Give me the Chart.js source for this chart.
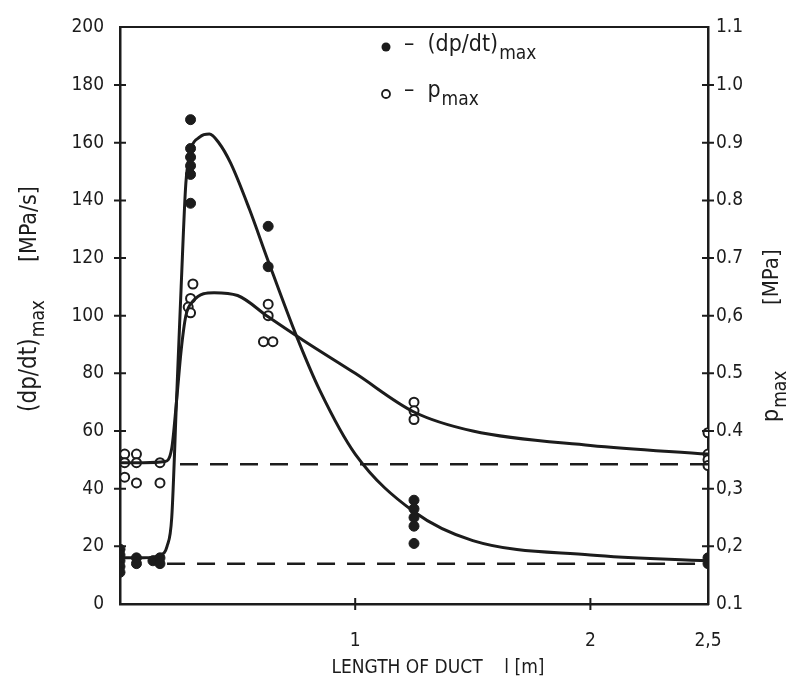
<!DOCTYPE html>
<html><head><meta charset="utf-8">
<script src="https://cdn.jsdelivr.net/npm/chart.js@4"></script>
<style>html,body{margin:0;padding:0;background:#fff}</style>
</head><body>
<canvas id="c" width="807" height="693"></canvas>
<script>
// ---- data ----
// (dp/dt)max measured points [MPa/s]
const dpdtX = [0, 0, 0, 0, 0, 0.07, 0.07, 0.14, 0.17, 0.17, 0.3, 0.3, 0.3, 0.3, 0.3, 0.3, 0.63, 0.63, 1.25, 1.25, 1.25, 1.25, 1.25, 2.5, 2.5];
const dpdtY = [19, 17, 15, 13, 11, 16, 14, 15, 16, 14, 168, 158, 155, 152, 149, 139, 131, 117, 36, 33, 30, 27, 21, 16, 14];
// pmax measured points [MPa]
const pmaxX = [0.02, 0.02, 0.02, 0.07, 0.07, 0.07, 0.17, 0.17, 0.31, 0.3, 0.29, 0.3, 0.63, 0.63, 0.61, 0.65, 1.25, 1.25, 1.25, 2.5, 2.5, 2.5, 2.5];
const pmaxY = [0.36, 0.345, 0.32, 0.36, 0.345, 0.31, 0.345, 0.31, 0.655, 0.63, 0.615, 0.605, 0.62, 0.6, 0.555, 0.555, 0.45, 0.435, 0.42, 0.397, 0.36, 0.35, 0.34];
// fitted curves
const dpdtCurveX = [0, 0.1, 0.17, 0.2, 0.22, 0.24, 0.26, 0.28, 0.3, 0.34, 0.38, 0.42, 0.47, 0.55, 0.63, 0.75, 0.85, 1.0, 1.25, 1.5, 2.0, 2.5];
const dpdtCurveY = [16, 16, 17, 20, 30, 70, 110, 146, 157, 162, 163, 160, 153, 137, 119, 93, 74, 52, 32, 22, 17, 15];
const pmaxCurveX = [0, 0.1, 0.19, 0.22, 0.24, 0.26, 0.28, 0.31, 0.4, 0.5, 0.63, 0.78, 1.0, 1.25, 1.5, 2.0, 2.5];
const pmaxCurveY = [0.345, 0.345, 0.347, 0.37, 0.45, 0.54, 0.6, 0.625, 0.64, 0.635, 0.598, 0.557, 0.5, 0.433, 0.4, 0.375, 0.36];
// dashed reference levels
const dpdtBaseX = [0.2, 2.5];
const dpdtBaseY = [14, 14];
const pmaxBaseX = [0.255, 2.5];
const pmaxBaseY = [0.3425, 0.3425];
// tick labels
const xTicks = [1, 2, 2.5];
const xTickLabels = ['1', '2', '2,5'];
const leftTicks = [0, 20, 40, 60, 80, 100, 120, 140, 160, 180, 200];
const leftTickLabels = ['0', '20', '40', '60', '80', '100', '120', '140', '160', '180', '200'];
const rightTicks = [0.1, 0.2, 0.3, 0.4, 0.5, 0.6, 0.7, 0.8, 0.9, 1.0, 1.1];
const rightTickLabels = ['0.1', '0,2', '0,3', '0.4', '0.5', '0,6', '0.7', '0.8', '0.9', '1.0', '1.1'];

const FONT = '"DejaVu Sans Condensed", "Liberation Sans Narrow", "DejaVu Sans", sans-serif';
const INK = '#1c1c1c';
const pts = (xs, ys) => xs.map((v, i) => ({x: v, y: ys[i]}));

function drawSub(ctx, main, sub, x, y, size, subSize) {
  ctx.font = size + 'px ' + FONT;
  ctx.fillText(main, x, y);
  const w = ctx.measureText(main).width;
  ctx.font = subSize + 'px ' + FONT;
  ctx.fillText(sub, x + w + 1, y + size * 0.38);
  return w + ctx.measureText(sub).width + 1;
}

const deco = {
  id: 'deco',
  afterDraw(chart) {
    const ctx = chart.ctx;
    const sx = chart.scales.x, sy = chart.scales.y, sy2 = chart.scales.y2;
    const a = chart.chartArea;
    ctx.save();
    ctx.strokeStyle = INK; ctx.fillStyle = INK; ctx.lineWidth = 2;
    ctx.beginPath();
    leftTicks.forEach(v => { if (v === 0 || v === 200) return; const p = sy.getPixelForValue(v); ctx.moveTo(a.left - 6, p); ctx.lineTo(a.left + 6, p); });
    rightTicks.forEach(v => { if (v < 0.15 || v > 1.05) return; const p = sy2.getPixelForValue(v); ctx.moveTo(a.right - 6, p); ctx.lineTo(a.right + 6, p); });
    [1, 2].forEach(v => { const p = sx.getPixelForValue(v); ctx.moveTo(p, a.bottom - 6); ctx.lineTo(p, a.bottom + 6); });
    ctx.stroke();
    // legend
    ctx.textBaseline = 'middle'; ctx.textAlign = 'left';
    ctx.beginPath(); ctx.arc(386, 47, 4.5, 0, Math.PI * 2); ctx.fill();
    drawSub(ctx, '–  (dp/dt)', 'max', 404, 45, 23, 19);
    ctx.beginPath(); ctx.arc(386, 94, 4, 0, Math.PI * 2); ctx.fillStyle = '#fff'; ctx.fill(); ctx.lineWidth = 1.8; ctx.stroke();
    ctx.fillStyle = INK;
    drawSub(ctx, '–  p', 'max', 404, 91, 23, 19);
    // left title (rotated)
    ctx.save();
    ctx.translate(30, 412); ctx.rotate(-Math.PI / 2);
    drawSub(ctx, '(dp/dt)', 'max', 0, 0, 24, 19);
    ctx.font = '23px ' + FONT;
    ctx.fillText('[MPa/s]', 150, 0);
    ctx.restore();
    // right title (rotated)
    ctx.save();
    ctx.translate(772, 422); ctx.rotate(-Math.PI / 2);
    drawSub(ctx, 'p', 'max', 0, 0, 23, 19);
    ctx.font = '22px ' + FONT;
    ctx.fillText('[MPa]', 117, 0);
    ctx.restore();
    // x title
    ctx.textAlign = 'center';
    ctx.font = '19px ' + FONT;
    ctx.fillText('LENGTH OF DUCT    l [m]', 438, 668);
    ctx.restore();
  }
};

new Chart(document.getElementById('c'), {
  type: 'scatter',
  data: {
    datasets: [
      { label: 'dpdt curve', type: 'line', data: pts(dpdtCurveX, dpdtCurveY), yAxisID: 'y', borderColor: INK, borderWidth: 3, pointRadius: 0, cubicInterpolationMode: 'monotone', fill: false },
      { label: 'pmax curve', type: 'line', data: pts(pmaxCurveX, pmaxCurveY), yAxisID: 'y2', borderColor: INK, borderWidth: 3, pointRadius: 0, cubicInterpolationMode: 'monotone', fill: false },
      { label: 'dpdt base', type: 'line', data: pts(dpdtBaseX, dpdtBaseY), yAxisID: 'y', borderColor: INK, borderWidth: 2.5, borderDash: [18, 12], pointRadius: 0, fill: false },
      { label: 'pmax base', type: 'line', data: pts(pmaxBaseX, pmaxBaseY), yAxisID: 'y2', borderColor: INK, borderWidth: 2.5, borderDash: [18, 12], pointRadius: 0, fill: false },
      { label: '(dp/dt)max', data: pts(dpdtX, dpdtY), yAxisID: 'y', backgroundColor: INK, borderColor: INK, pointRadius: 5, pointBorderWidth: 1 },
      { label: 'pmax', data: pts(pmaxX, pmaxY), yAxisID: 'y2', backgroundColor: '#fff', borderColor: INK, pointRadius: 4.5, pointBorderWidth: 2 }
    ]
  },
  options: {
    responsive: false, animation: false, devicePixelRatio: 1,
    layout: { padding: 0 },
    plugins: { legend: { display: false }, tooltip: { enabled: false } },
    scales: {
      x: {
        type: 'linear', position: 'bottom', min: 0, max: 2.5,
        afterFit(s) { s.height = 89; },
        afterBuildTicks(s) { s.ticks = xTicks.map(v => ({value: v})); },
        ticks: { color: INK, font: { size: 19, family: FONT }, padding: 26, maxRotation: 0, autoSkip: false,
                 callback: (v) => xTickLabels[xTicks.indexOf(v)] },
        grid: { display: false, drawTicks: false },
        border: { display: true, color: INK, width: 2.5 }
      },
      xTop: {
        type: 'linear', position: 'top', min: 0, max: 2.5,
        afterFit(s) { s.height = 25; },
        ticks: { display: false }, grid: { display: false, drawTicks: false },
        border: { display: true, color: INK, width: 2 }
      },
      y: {
        type: 'linear', position: 'left', min: 0, max: 200,
        afterFit(s) { s.width = 120; },
        afterBuildTicks(s) { s.ticks = leftTicks.map(v => ({value: v})); },
        ticks: { color: INK, font: { size: 19, family: FONT }, padding: 16, autoSkip: false,
                 callback: (v) => leftTickLabels[leftTicks.indexOf(v)] },
        grid: { display: false, drawTicks: false },
        border: { display: true, color: INK, width: 2.5 }
      },
      y2: {
        type: 'linear', position: 'right', min: 0.1, max: 1.1,
        afterFit(s) { s.width = 99; },
        afterBuildTicks(s) { s.ticks = rightTicks.map(v => ({value: v})); },
        ticks: { color: INK, font: { size: 19, family: FONT }, padding: 8, autoSkip: false,
                 callback: (v) => { const i = rightTicks.findIndex(t => Math.abs(t - v) < 1e-6); return rightTickLabels[i]; } },
        grid: { display: false, drawTicks: false },
        border: { display: true, color: INK, width: 2.5 }
      }
    }
  },
  plugins: [deco]
});
</script>
</body></html>
